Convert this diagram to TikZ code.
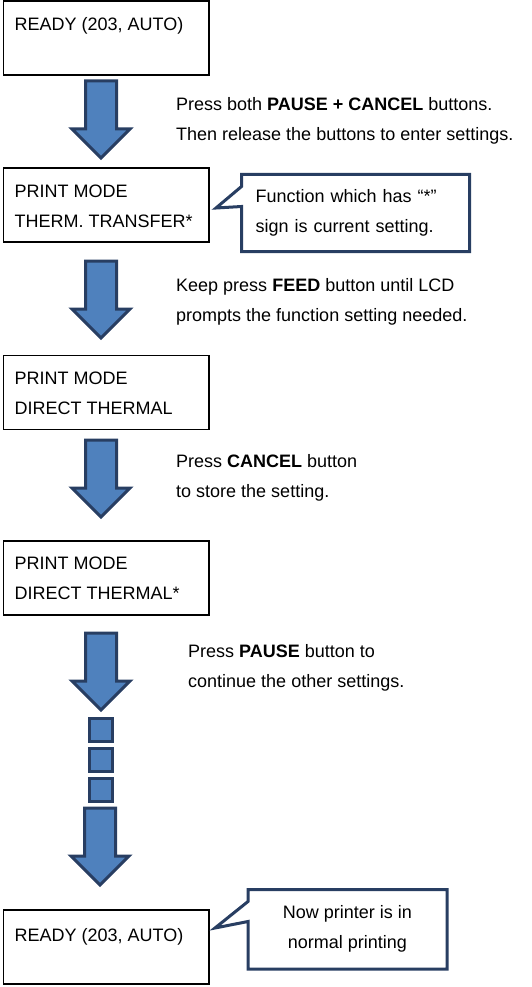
\documentclass[tikz,border=0pt]{standalone}
\usepackage{fontspec}
\setmainfont{Liberation Sans}
\usepackage{xcolor}
\usetikzlibrary{positioning,shapes.arrows,calc}
\definecolor{flowblue}{RGB}{79,129,189}
\definecolor{flownavy}{RGB}{40,62,98}
\tikzset{
  screen/.style={rectangle,draw=black,line width=1.3pt,minimum width=205.5pt,minimum height=74pt,anchor=north west,inner sep=0pt,outer sep=0pt},
  lcdtext/.style={anchor=base west,align=left,inner sep=0pt,font=\fontsize{18}{30}\selectfont},
  hint/.style={anchor=base west,align=left,inner sep=0pt,font=\fontsize{18}{30}\selectfont},
  flowarrow/.style={single arrow,draw=flownavy,fill=flowblue,line width=3pt,shape border rotate=270,anchor=tip,
    minimum height=77pt,minimum width=55pt,inner sep=14pt,outer sep=0pt,single arrow tip angle=90,single arrow head extend=13.5pt},
  dotbox/.style={rectangle,draw=flownavy,fill=flowblue,line width=3pt,minimum size=23pt,inner sep=0pt},
  noteline/.style={draw=flownavy,line width=3pt,fill=white}
}

\begin{document}
\begin{tikzpicture}[x=1pt,y=-1pt,
      notebox/.style={rectangle,inner sep=0pt,outer sep=0pt,font=\fontsize{18}{30}\selectfont}
      ]
      \useasboundingbox (0,0) rectangle (532,987);

      % screens (base anchor sits on the last line)
      \node[screen] (ready) at (3.5,1) {};
      \node[screen] (modett) at (3.5,168) {};
      \node[screen] (modedt) at (3.5,355.5) {};
      \node[screen] (modedtset) at (3.5,541) {};
      \node[screen] (readyend) at (3.5,910) {};

      \node[lcdtext] (readytxt) at ($(ready.north west)+(11,30)$) {READY (203, AUTO)};
      \node[lcdtext] (modetttxt) at ($(modett.north west)+(11,59)$) {PRINT MODE\\THERM. TRANSFER*};
      \node[lcdtext] (modedttxt) at ($(modedt.north west)+(11,58.5)$) {PRINT MODE\\DIRECT THERMAL};
      \node[lcdtext] (modedtsettxt) at ($(modedtset.north west)+(11,58)$) {PRINT MODE\\DIRECT THERMAL*};
      \node[lcdtext] (readyendtxt) at ($(readyend.north west)+(11,31)$) {READY (203, AUTO)};

      % arrows between screens
      \node[flowarrow] (step1) at (101,158) {};
      \node[flowarrow] (step2) at (101,338) {};
      \node[flowarrow] (step3) at (101,517) {};
      \node[flowarrow] (step4) at (101,710) {};
      \foreach \i in {0,1,2}
        \node[dotbox] (gap\i) at (101,729.5+30*\i) {};
      \node[flowarrow] (step5) at (100,885) {};

      % instructions
      \node[hint] (press1) at (176,141) {Press both \textbf{PAUSE + CANCEL} buttons.\\Then release the buttons to enter settings.};
      \node[hint] (press2) at (176,321) {Keep press \textbf{FEED} button until LCD\\prompts the function setting needed.};
      \node[hint] (press3) at (176,497) {Press \textbf{CANCEL} button\\to store the setting.};
      \node[hint] (press4) at (188,687) {Press \textbf{PAUSE} button to\\continue the other settings.};

      % callouts
      \coordinate (tip1) at (216,208);
      \node[notebox,anchor=north west,minimum width=228pt,minimum height=77pt,text width=200pt,inner xsep=13.5pt,align=left] (note1) at (241.5,174.5) {};
      \draw[noteline] (note1.north west) -- ($(note1.north west)+(0,12)$) -- (tip1) -- ($(note1.north west)+(0,32)$)
        -- (note1.south west) -- (note1.south east) -- (note1.north east) -- cycle;
      \node[notebox,anchor=north west,minimum width=228pt,minimum height=77pt,text width=200pt,inner xsep=13.5pt,align=left] at (note1.north west) {Function which has “*”\\sign is current setting.};

      \coordinate (tip2) at (215,928);
      \node[notebox,anchor=north west,minimum width=199pt,minimum height=79.5pt,align=center] (note2) at (248,889.5) {};
      \draw[noteline] (note2.north west) -- ($(note2.north west)+(0,12)$) -- (tip2) -- ($(note2.north west)+(0,32)$)
        -- (note2.south west) -- (note2.south east) -- (note2.north east) -- cycle;
      \node[notebox,align=center] (note2txt) at (note2.center) {Now printer is in\\normal printing};

\end{tikzpicture}
\end{document}
